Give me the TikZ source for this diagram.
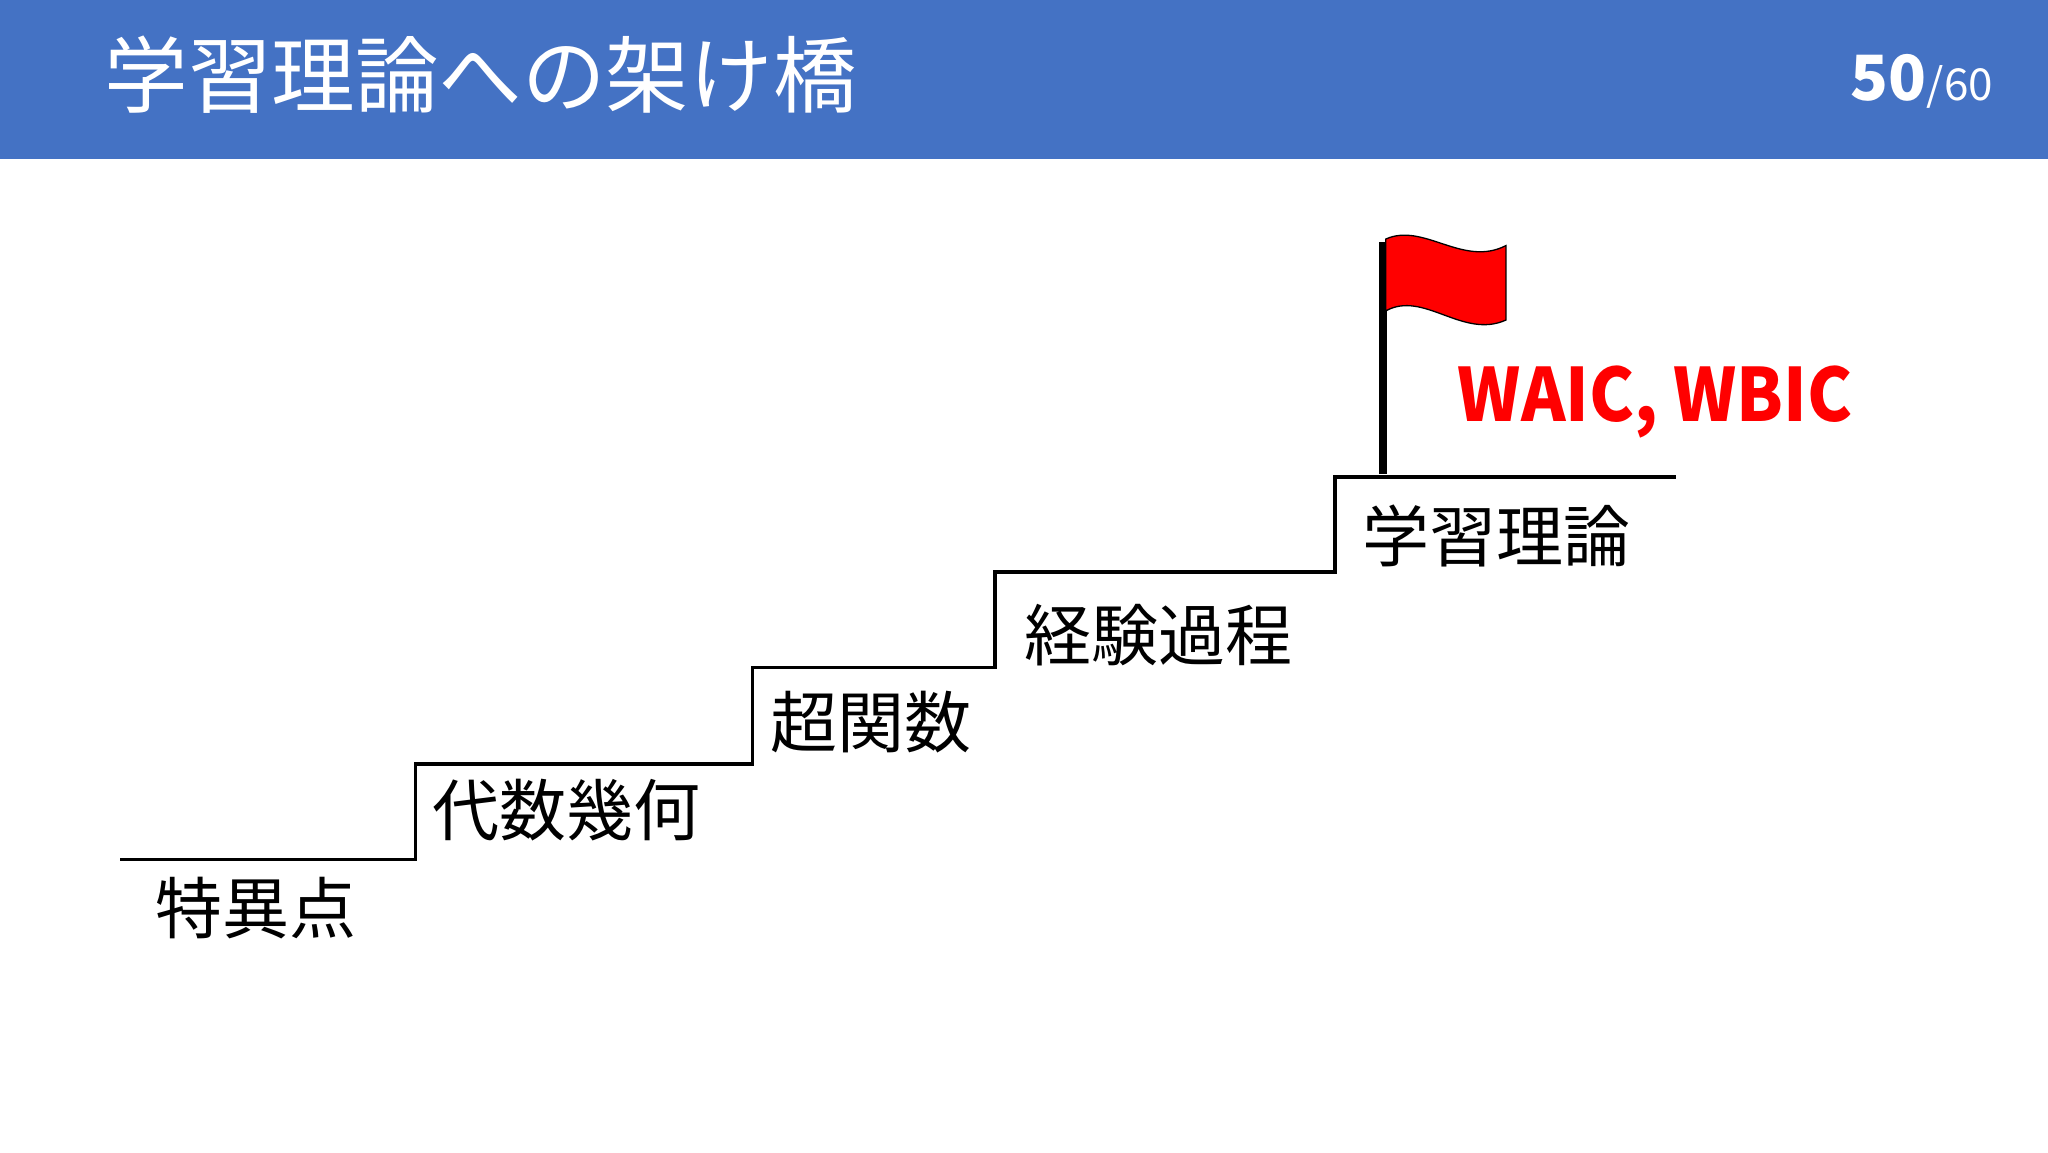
\documentclass[tikz,border=0pt]{standalone}
\usepackage{fontspec}
\setmainfont{Noto Sans CJK JP}
\begin{document}
\begin{tikzpicture}[x=0.5mm,y=-0.5mm,
  lbl/.style={anchor=west,inner sep=0pt,font=\fontsize{73}{75}\selectfont},
  stair/.style={line width=1.4mm}]
\useasboundingbox (0,0) rectangle (1568,882);
\fill[white] (0,0) rectangle (1568,882);
\fill[fill={rgb,255:red,68;green,114;blue,196}] (0,0) rectangle (1568,122);
\node[anchor=west,text=white,inner sep=0pt,font=\fontsize{91}{93}\selectfont] (title) at (80,57) {学習理論への架け橋};
\node[anchor=east,text=white,inner sep=0pt] (page) at (1526,62) {{\fontsize{68}{70}\selectfont\bfseries 50}{\fontsize{48}{50}\selectfont /60}};
\draw[stair] (92,658) -- (318,658) -- (318,585) -- (576,585) -- (576,511) -- (762,511) -- (762,438) -- (1022,438) -- (1022,365) -- (1283,365);
\node[lbl] (s1) at (119,695) {特異点};
\node[lbl] (s2) at (331,620) {代数幾何};
\node[lbl] (s3) at (590,553) {超関数};
\node[lbl] (s4) at (784,486) {経験過程};
\node[lbl] (s5) at (1043,410) {学習理論};
\draw[line width=3mm] (1059,185) -- (1059,363);
\filldraw[fill=red,draw=black,line width=0.5mm] (1061,183) .. controls (1090,170) and (1120,205) .. (1153,188) -- (1153,245) .. controls (1120,260) and (1090,222) .. (1061,238) -- cycle;
\node[anchor=west,inner sep=0pt,text=red,font=\fontsize{80}{82}\selectfont\bfseries] (w) at (1116,308) {\addfontfeature{FakeStretch=0.92}WAIC, WBIC};
\end{tikzpicture}
\end{document}
